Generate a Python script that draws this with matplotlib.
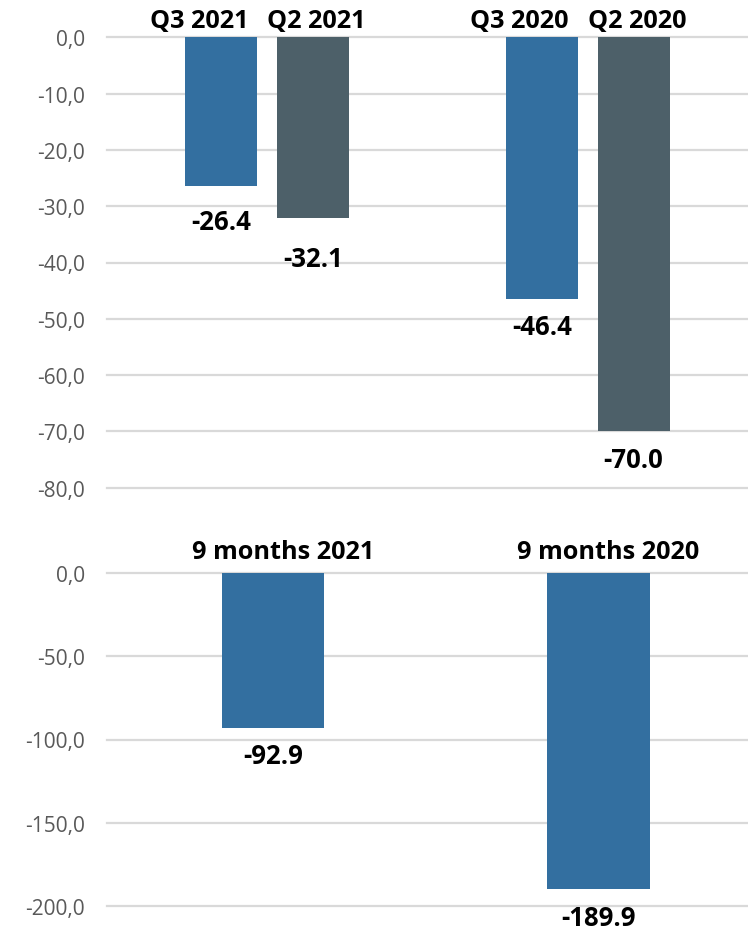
import matplotlib
matplotlib.use("Agg")
import matplotlib.pyplot as plt
import numpy as np

# ---- data ----
groups_top = ["2021", "2020"]
q3_labels = ["Q3 2021", "Q3 2020"]
q2_labels = ["Q2 2021", "Q2 2020"]
q3_values = [-26.4, -46.4]
q2_values = [-32.1, -70.0]

nine_labels = ["9 months 2021", "9 months 2020"]
nine_values = [-92.9, -189.9]

top_ticks = [0, -10, -20, -30, -40, -50, -60, -70, -80]
bottom_ticks = [0, -50, -100, -150, -200]

BLUE = "#336FA0"
GREY = "#4D6069"
GRID = "#D9D9D9"
TICK = "#595959"
FONT = "Open Sans"

plt.rcParams["font.family"] = [FONT, "DejaVu Sans"]

W, H = 748, 937
fig = plt.figure(figsize=(W / 100, H / 100), dpi=100)

PX = 1 / 1.389  # pixels -> points


def fmt(v):
    return f"{v:.1f}".replace(".", ",")


def style_axes(ax, ticks, lo, hi):
    ax.set_ylim(lo, hi)
    ax.set_yticks(ticks)
    ax.set_yticklabels([fmt(t) for t in ticks], color=TICK, fontsize=15)
    ax.tick_params(axis="y", length=0, pad=22 * PX)
    ax.tick_params(axis="x", length=0)
    ax.set_xticks([])
    for s in ax.spines.values():
        s.set_visible(False)
    for t in ticks:
        ax.axhline(t, color=GRID, lw=1.6, zorder=0, clip_on=False)
    ax.set_facecolor("none")


VAL_FS = 18.5
CAT_FS = 18.2

# ---- top panel ----
ax1 = fig.add_axes([107 / W, 1 - 488.7 / H, 641 / W, (488.7 - 38.3) / H])
x = np.arange(len(groups_top))
off = 0.143
bw = 0.225
ax1.bar(x - off, q3_values, bw, color=BLUE, zorder=2)
ax1.bar(x + off, q2_values, bw, color=GREY, zorder=2)
ax1.set_xlim(-0.5, 1.5)
style_axes(ax1, top_ticks, -80, 0)

lab_off_q3 = [-36, -28]
lab_off_q2 = [-40, -28]
for i in range(len(x)):
    ax1.annotate(f"{q3_values[i]:.1f}", (x[i] - off, q3_values[i]),
                 xytext=(0, lab_off_q3[i] * PX), textcoords="offset points",
                 ha="center", va="center", fontsize=VAL_FS, fontweight="bold", color="black")
    ax1.annotate(f"{q2_values[i]:.1f}", (x[i] + off, q2_values[i]),
                 xytext=(0, lab_off_q2[i] * PX), textcoords="offset points",
                 ha="center", va="center", fontsize=VAL_FS, fontweight="bold", color="black")
    ax1.annotate(q3_labels[i], (x[i] - off - 0.07, 0),
                 xytext=(0, 17 * PX), textcoords="offset points",
                 ha="center", va="center", fontsize=CAT_FS, fontweight="bold", color="black",
                 annotation_clip=False)
    ax1.annotate(q2_labels[i], (x[i] + off + 0.01, 0),
                 xytext=(0, 17 * PX), textcoords="offset points",
                 ha="center", va="center", fontsize=CAT_FS, fontweight="bold", color="black",
                 annotation_clip=False)

# ---- bottom panel ----
ax2 = fig.add_axes([107 / W, 1 - 907 / H, 641 / W, (907 - 574) / H])
x2 = np.arange(len(nine_labels))
ax2.bar(x2, nine_values, 0.316, color=BLUE, zorder=2)
ax2.set_xlim(-0.51, 1.46)
style_axes(ax2, bottom_ticks, -200, 0)

lab_off_9 = [-28, -28]
for i in range(len(x2)):
    ax2.annotate(f"{nine_values[i]:.1f}", (x2[i], nine_values[i]),
                 xytext=(0, lab_off_9[i] * PX), textcoords="offset points",
                 ha="center", va="center", fontsize=VAL_FS, fontweight="bold", color="black",
                 annotation_clip=False)
    ax2.annotate(nine_labels[i], (x2[i] + 0.03, 0),
                 xytext=(0, 22 * PX), textcoords="offset points",
                 ha="center", va="center", fontsize=CAT_FS, fontweight="bold", color="black",
                 annotation_clip=False)

fig.savefig("out.png", dpi=100)
